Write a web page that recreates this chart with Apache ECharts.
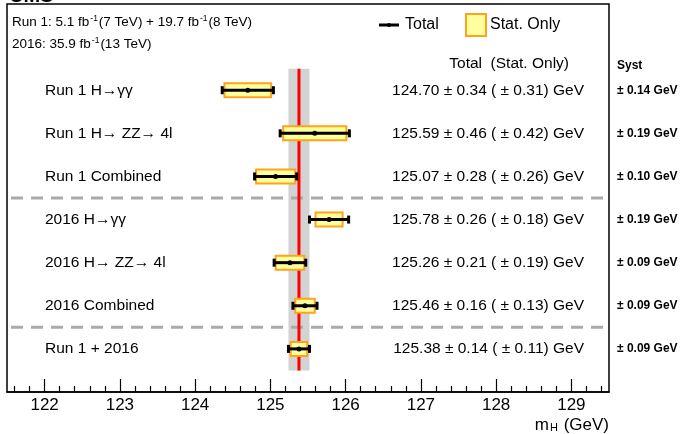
<!DOCTYPE html>
<html>
<head>
<meta charset="utf-8">
<script src="https://cdn.jsdelivr.net/npm/echarts@6/dist/echarts.min.js"></script>
<style>
  html, body { margin: 0; padding: 0; background: #fff; }
  #chart { width: 681px; height: 434px; }
</style>
</head>
<body>
<div id="chart"></div>
<script>
const FONT = '"Liberation Sans", Arial, sans-serif'

const labels = [
  'Run 1 H\u2192\u03b3\u03b3',
  'Run 1 H\u2192 ZZ\u2192 4l',
  'Run 1 Combined',
  '2016 H\u2192\u03b3\u03b3',
  '2016 H\u2192 ZZ\u2192 4l',
  '2016 Combined',
  'Run 1 + 2016',
]
const masses = [124.70, 125.59, 125.07, 125.78, 125.26, 125.46, 125.38]
const totalErr = [0.34, 0.46, 0.28, 0.26, 0.21, 0.16, 0.14]
const statErr = [0.31, 0.42, 0.26, 0.18, 0.19, 0.13, 0.11]
const systErr = [0.14, 0.19, 0.10, 0.19, 0.09, 0.09, 0.09]
const rows = [1, 2, 3, 4, 5, 6, 7]
const separators = [3.5, 6.5]
const combinedMass = 125.38
const combinedErr = 0.14
const majorTicks = [122, 123, 124, 125, 126, 127, 128, 129]
const xMin = 121.5
const xMax = 129.5

// minor ticks every 0.2 between the majors
const minorTicks = []
for (let v = 1216; v <= 1294; v += 2) {
  if (v % 10 !== 0) minorTicks.push(v / 10)
}

const YELLOW = '#ffff9e'
const ORANGE = '#ffa31a'

const chart = echarts.init(document.getElementById('chart'), null, { renderer: 'canvas' })

const fmt = (v) => v.toFixed(2)

chart.setOption({
  animation: false,
  grid: {
    left: 7, right: 72, top: 4, bottom: 42,
    show: true, borderColor: '#000', borderWidth: 1.5,
  },
  xAxis: [
    {
      type: 'value', min: xMin, max: xMax, position: 'bottom',
      axisLine: { show: true, onZero: false, lineStyle: { color: '#000', width: 1.5 } },
      axisTick: { show: true, inside: true, length: 13, customValues: majorTicks, lineStyle: { color: '#000', width: 1.2 } },
      axisLabel: { customValues: majorTicks, fontSize: 17, color: '#000', margin: 5, fontFamily: FONT },
      splitLine: { show: false },
    },
    {
      type: 'value', min: xMin, max: xMax, position: 'bottom',
      axisLine: { show: false, onZero: false },
      axisTick: { show: true, inside: true, length: 6, customValues: minorTicks, lineStyle: { color: '#000', width: 1.2 } },
      axisLabel: { show: false },
      splitLine: { show: false },
    },
  ],
  yAxis: { type: 'value', min: -1, max: 8, inverse: true, show: false },
  series: [
    {
      // combined uncertainty band
      type: 'custom', z: 1,
      data: [[combinedMass, combinedErr]],
      renderItem: (params, api) => {
        const a = api.coord([api.value(0) - api.value(1), 0.5])
        const b = api.coord([api.value(0) + api.value(1), 7.5])
        return { type: 'rect', shape: { x: a[0], y: a[1], width: b[0] - a[0], height: b[1] - a[1] }, style: { fill: '#d3d3d3' } }
      },
    },
    {
      type: 'custom', z: 2,
      data: separators,
      renderItem: (params, api) => {
        const a = api.coord([xMin, api.value(0)])
        const b = api.coord([xMax, api.value(0)])
        return { type: 'line', shape: { x1: a[0] + 1, y1: a[1], x2: b[0] - 1, y2: b[1] }, style: { stroke: '#aaaaaa', lineWidth: 3, lineDash: [12, 8], lineDashOffset: -3 } }
      },
    },
    {
      type: 'custom', z: 3,
      data: [[combinedMass]],
      renderItem: (params, api) => {
        const a = api.coord([api.value(0), 0.5])
        const b = api.coord([api.value(0), 7.5])
        return { type: 'line', shape: { x1: a[0], y1: a[1], x2: b[0], y2: b[1] }, style: { stroke: '#ff0000', lineWidth: 3 } }
      },
    },
    {
      type: 'custom', z: 4,
      data: masses.map((m, i) => [m, totalErr[i], statErr[i], rows[i]]),
      renderItem: (params, api) => {
        const m = api.value(0), tot = api.value(1), st = api.value(2), row = api.value(3)
        const c = api.coord([m, row])
        const lo = api.coord([m - tot, row])
        const hi = api.coord([m + tot, row])
        const sLo = api.coord([m - st, row])
        const sHi = api.coord([m + st, row])
        const y = c[1]
        return {
          type: 'group',
          children: [
            { type: 'rect', shape: { x: sLo[0], y: y - 7, width: sHi[0] - sLo[0], height: 14 }, style: { fill: YELLOW, stroke: ORANGE, lineWidth: 2 } },
            { type: 'line', shape: { x1: lo[0], y1: y, x2: hi[0], y2: y }, style: { stroke: '#000', lineWidth: 3 } },
            { type: 'rect', shape: { x: lo[0] - 1.5, y: y - 4, width: 3, height: 8 }, style: { fill: '#000' } },
            { type: 'rect', shape: { x: hi[0] - 1.5, y: y - 4, width: 3, height: 8 }, style: { fill: '#000' } },
            { type: 'circle', shape: { cx: c[0], cy: y, r: 2.5 }, style: { fill: '#000' } },
          ],
        }
      },
    },
    {
      // row labels, values and systematics
      type: 'custom', z: 5,
      data: rows,
      renderItem: (params, api) => {
        const i = params.dataIndex
        const y = api.coord([xMin, api.value(0)])[1]
        return {
          type: 'group',
          children: [
            { type: 'text', style: { x: 45, y: y, text: labels[i], fontSize: 15.5, fontFamily: FONT, fill: '#000', align: 'left', verticalAlign: 'middle' } },
            { type: 'text', style: { x: 584, y: y, text: `${fmt(masses[i])} \u00b1 ${fmt(totalErr[i])} ( \u00b1 ${fmt(statErr[i])}) GeV`, fontSize: 15.5, fontFamily: FONT, fill: '#000', align: 'right', verticalAlign: 'middle' } },
            { type: 'text', style: { x: 617, y: y, text: `\u00b1 ${fmt(systErr[i])} GeV`, fontSize: 12, fontWeight: 'bold', fontFamily: FONT, fill: '#000', align: 'left', verticalAlign: 'middle' } },
          ],
        }
      },
    },
  ],
  graphic: [
    { type: 'text', style: { x: 9, y: 6, text: 'CMS', fontSize: 20, fontWeight: 'bold', fontFamily: FONT, fill: '#000', verticalAlign: 'bottom' } },
    {
      type: 'text',
      style: {
        x: 12, y: 22, verticalAlign: 'middle',
        text: 'Run 1: 5.1 fb{sup|-1}(7 TeV) + 19.7 fb{sup|-1}(8 TeV)',
        fontSize: 13.5, fontFamily: FONT, fill: '#000',
        rich: { sup: { fontSize: 8.5, fontFamily: FONT, verticalAlign: 'top', padding: [0, 1, 6, 1] } },
      },
    },
    {
      type: 'text',
      style: {
        x: 12, y: 44, verticalAlign: 'middle',
        text: '2016: 35.9 fb{sup|-1}(13 TeV)',
        fontSize: 13.5, fontFamily: FONT, fill: '#000',
        rich: { sup: { fontSize: 8.5, fontFamily: FONT, verticalAlign: 'top', padding: [0, 1, 6, 1] } },
      },
    },
    // legend
    { type: 'line', shape: { x1: 379, y1: 25, x2: 399, y2: 25 }, style: { stroke: '#000', lineWidth: 3 } },
    { type: 'circle', shape: { cx: 389, cy: 25, r: 2 }, style: { fill: '#000' } },
    { type: 'text', style: { x: 405, y: 25, text: 'Total', fontSize: 16, fontFamily: FONT, fill: '#000', verticalAlign: 'middle' } },
    { type: 'rect', shape: { x: 466, y: 14, width: 20, height: 22 }, style: { fill: YELLOW, stroke: ORANGE, lineWidth: 2 } },
    { type: 'text', style: { x: 490, y: 25, text: 'Stat. Only', fontSize: 16, fontFamily: FONT, fill: '#000', verticalAlign: 'middle' } },
    // column headers
    { type: 'text', style: { x: 569, y: 64, text: 'Total  (Stat. Only)', fontSize: 15.5, fontFamily: FONT, fill: '#000', align: 'right', verticalAlign: 'middle' } },
    { type: 'text', style: { x: 617, y: 66, text: 'Syst', fontSize: 12, fontWeight: 'bold', fontFamily: FONT, fill: '#000', verticalAlign: 'middle' } },
    // axis title
    {
      type: 'text',
      style: {
        x: 609, y: 425, align: 'right', verticalAlign: 'middle',
        text: 'm{sub|H} (GeV)', fontSize: 17, fontFamily: FONT, fill: '#000',
        rich: { sub: { fontSize: 11, fontFamily: FONT, verticalAlign: 'bottom', padding: [6, 1, 0, 1] } },
      },
    },
  ],
})
</script>
</body>
</html>
